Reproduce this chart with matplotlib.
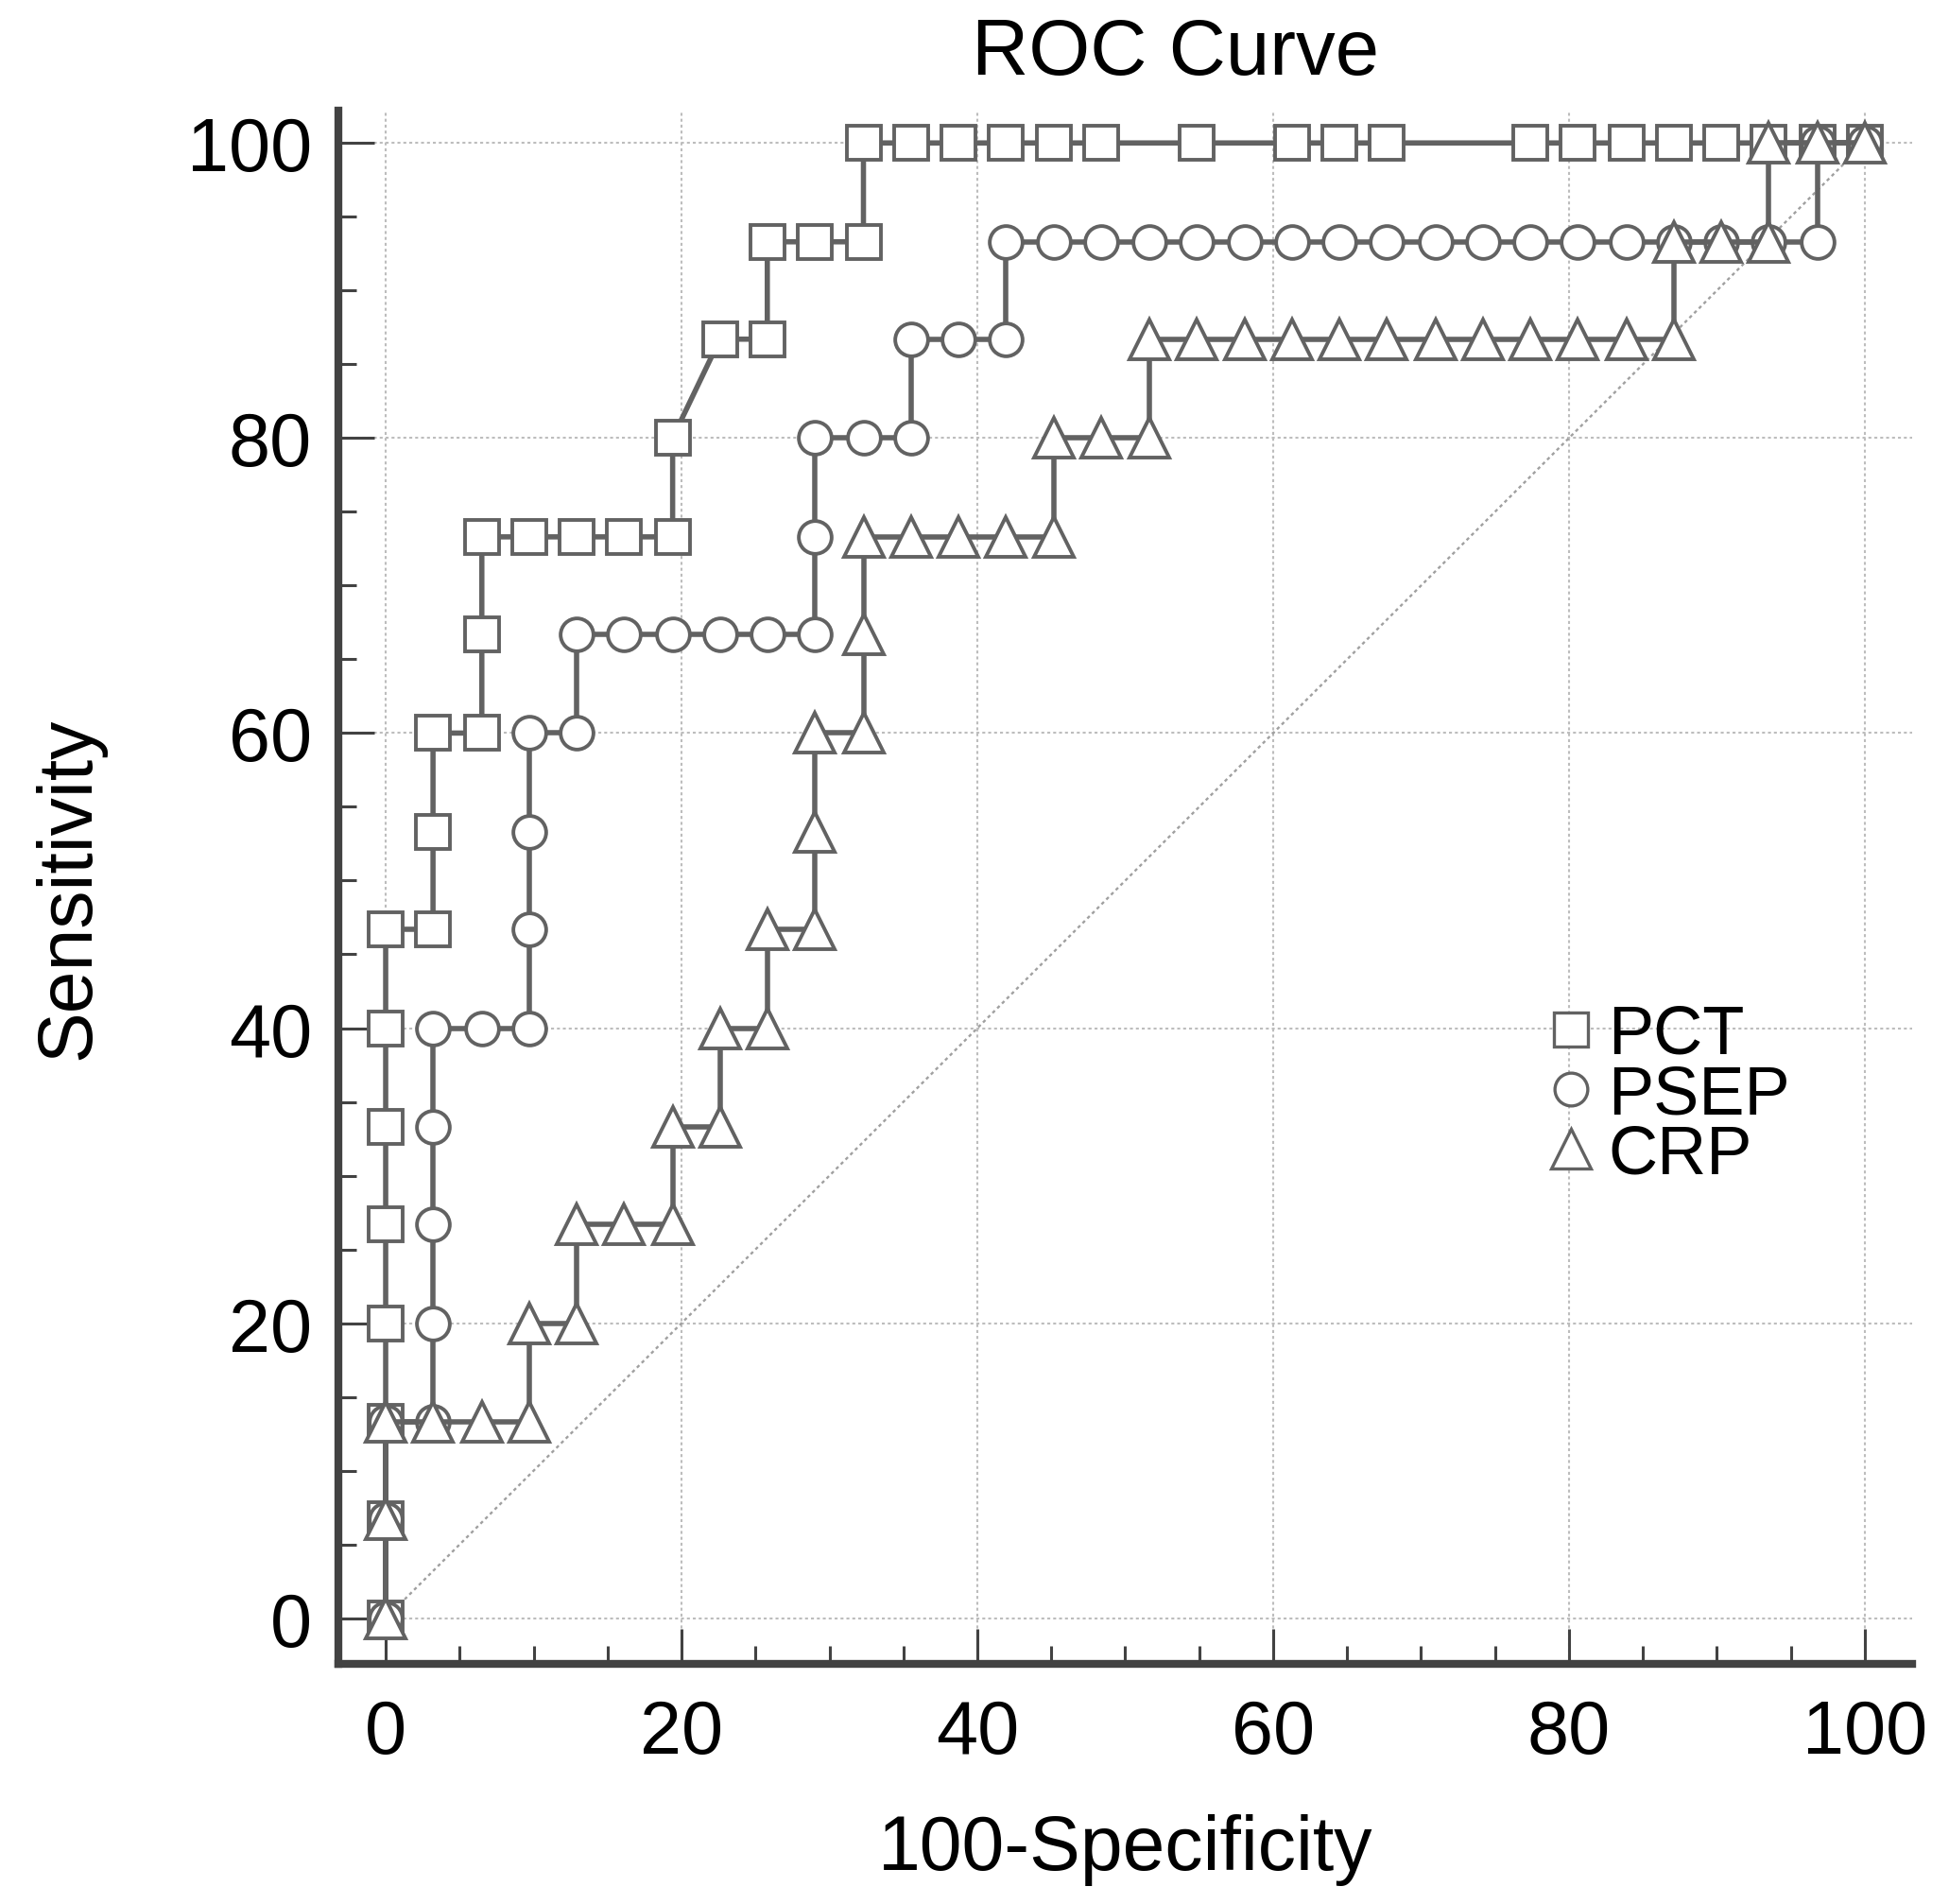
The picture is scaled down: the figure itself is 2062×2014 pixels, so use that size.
import matplotlib
matplotlib.use("Agg")
import matplotlib.pyplot as plt
from matplotlib.lines import Line2D
from matplotlib.ticker import MultipleLocator

plt.rcParams['font.family'] = ['Liberation Sans', 'DejaVu Sans']

# ---- data (100-Specificity %, Sensitivity %) ----
pct_fpr = [0, 0, 0, 0, 0, 0, 0, 0, 3.2, 3.2, 3.2, 6.5, 6.5, 6.5, 9.7, 12.9, 16.1, 19.4,
           19.4, 22.6, 25.8, 25.8, 29.0, 32.3, 32.3, 35.5, 38.7, 41.9, 45.2, 48.4, 54.8,
           61.3, 64.5, 67.7, 77.4, 80.6, 83.9, 87.1, 90.3, 93.5, 96.8, 100]
pct_sens = [0, 6.7, 13.3, 20, 26.7, 33.3, 40, 46.7, 46.7, 53.3, 60, 60, 66.7, 73.3, 73.3,
            73.3, 73.3, 73.3, 80, 86.7, 86.7, 93.3, 93.3, 93.3, 100, 100, 100, 100, 100,
            100, 100, 100, 100, 100, 100, 100, 100, 100, 100, 100, 100, 100]

psep_fpr = [0, 0, 0, 3.2, 3.2, 3.2, 3.2, 3.2, 6.5, 9.7, 9.7, 9.7, 9.7, 12.9, 12.9, 16.1,
            19.4, 22.6, 25.8, 29.0, 29.0, 29.0, 32.3, 35.5, 35.5, 38.7, 41.9, 41.9, 45.2,
            48.4, 51.6, 54.8, 58.1, 61.3, 64.5, 67.7, 71.0, 74.2, 77.4, 80.6, 83.9, 87.1,
            90.3, 93.5, 96.8, 96.8, 100]
psep_sens = [0, 6.7, 13.3, 13.3, 20, 26.7, 33.3, 40, 40, 40, 46.7, 53.3, 60, 60, 66.7,
             66.7, 66.7, 66.7, 66.7, 66.7, 73.3, 80, 80, 80, 86.7, 86.7, 86.7, 93.3, 93.3,
             93.3, 93.3, 93.3, 93.3, 93.3, 93.3, 93.3, 93.3, 93.3, 93.3, 93.3, 93.3, 93.3,
             93.3, 93.3, 93.3, 100, 100]

crp_fpr = [0, 0, 0, 3.2, 6.5, 9.7, 9.7, 12.9, 12.9, 16.1, 19.4, 19.4, 22.6, 22.6, 25.8,
           25.8, 29.0, 29.0, 29.0, 32.3, 32.3, 32.3, 35.5, 38.7, 41.9, 45.2, 45.2, 48.4,
           51.6, 51.6, 54.8, 58.1, 61.3, 64.5, 67.7, 71.0, 74.2, 77.4, 80.6, 83.9, 87.1,
           87.1, 90.3, 93.5, 93.5, 96.8, 100]
crp_sens = [0, 6.7, 13.3, 13.3, 13.3, 13.3, 20, 20, 26.7, 26.7, 26.7, 33.3, 33.3, 40, 40,
            46.7, 46.7, 53.3, 60, 60, 66.7, 73.3, 73.3, 73.3, 73.3, 73.3, 80, 80, 80,
            86.7, 86.7, 86.7, 86.7, 86.7, 86.7, 86.7, 86.7, 86.7, 86.7, 86.7, 86.7, 93.3,
            93.3, 93.3, 100, 100, 100]

series_names = ["PCT", "PSEP", "CRP"]
ref_line = [0, 100]
x_ticks = [0, 20, 40, 60, 80, 100]
y_ticks = [0, 20, 40, 60, 80, 100]

# ---- figure ----
fig = plt.figure(figsize=(20.62, 20.15), dpi=100)
ax = fig.add_axes([0.1736, 0.126, 0.8075, 0.8155])

line_col = "#626262"
axis_col = "#424242"

ax.plot(ref_line, ref_line, color="#a0a0a0", lw=1.7, ls=(0, (1.5, 1.5)), zorder=1)

styles = [("s", 25.5), ("o", 25), ("^", 30)]
data = [(pct_fpr, pct_sens), (psep_fpr, psep_sens), (crp_fpr, crp_sens)]
for i, ((xs, ys), (mk, ms)) in enumerate(zip(data, styles)):
    ax.plot(xs, ys, color=line_col, lw=4.0, marker=mk, ms=ms, mfc="white",
            mec=line_col, mew=2.8, zorder=3 + i, clip_on=False)

ax.set_xlim(-3.2, 103.2)
ax.set_ylim(-3.1, 102.2)
ax.set_xticks(x_ticks)
ax.set_yticks(y_ticks)
ax.xaxis.set_minor_locator(MultipleLocator(5))
ax.yaxis.set_minor_locator(MultipleLocator(5))

ax.grid(True, which="major", color="#bdbdbd", lw=1.5, ls=(0, (1.5, 1.5)))
ax.set_axisbelow(True)

for s in ["top", "right"]:
    ax.spines[s].set_visible(False)
for s in ["left", "bottom"]:
    ax.spines[s].set_linewidth(6)
    ax.spines[s].set_color(axis_col)

ax.tick_params(which="major", direction="in", length=27, width=2.2, color=axis_col,
               labelsize=57, labelcolor="black")
ax.tick_params(which="minor", direction="in", length=13.5, width=2.2, color=axis_col)
ax.tick_params(axis="x", which="major", pad=26)
ax.tick_params(axis="y", which="major", pad=20)

ax.set_xlabel("100-Specificity", fontsize=58, labelpad=34)
ax.set_ylabel("Sensitivity", fontsize=58, labelpad=62)

fig.text(0.603, 0.961, "ROC Curve", fontsize=60, ha="center", va="baseline")

handles = [Line2D([], [], ls="none", marker=mk, ms=ms, mfc="white", mec=line_col, mew=2.4)
           for mk, ms in styles]
ax.legend(handles, series_names, loc="upper left", bbox_to_anchor=(0.7955, 0.4725),
          bbox_transform=fig.transFigure, frameon=False, fontsize=52,
          handlelength=0.6, handletextpad=0.24, labelspacing=-0.05, borderpad=0,
          borderaxespad=0)

fig.savefig("out.png", dpi=100, facecolor="white")
